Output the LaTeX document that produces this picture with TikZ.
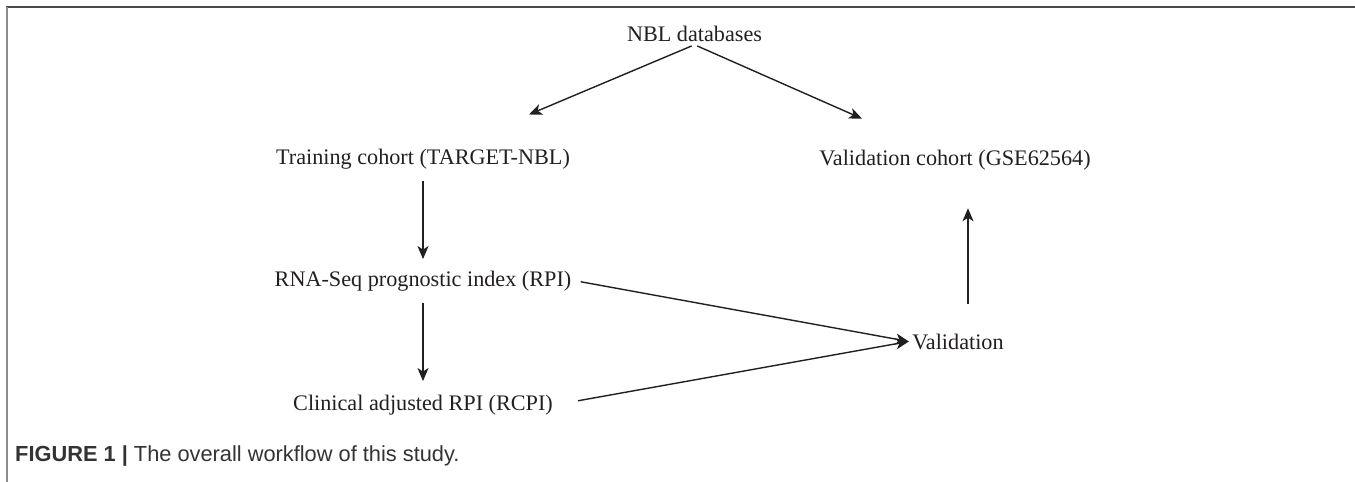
\documentclass[tikz,border=0pt]{standalone}
\usepackage{fontspec}
\setmainfont{Liberation Serif}
\newfontfamily\capfont{Liberation Sans}
\usetikzlibrary{arrows.meta}
\definecolor{ink}{HTML}{231F20}
\definecolor{framedark}{HTML}{4A4A4A}
\definecolor{framelight}{HTML}{8C8C8C}
\definecolor{captext}{HTML}{333333}
\begin{document}
\begin{tikzpicture}[x=1pt,y=-1pt,
    stage/.style={font=\fontsize{22.2}{26}\selectfont, text=ink, anchor=base},
    flow/.style={draw=ink, line width=1.4pt, -{Stealth[length=13pt,width=11pt,inset=3.5pt]}}]
      \useasboundingbox (0,0) rectangle (1355,482);
      \draw[framedark, line width=2pt] (6,7) -- (1355,7);
      \draw[framelight, line width=2pt] (7,7) -- (7,482);
      \draw
        (694.5,41) node[stage] (nbl){NBL databases}
        (423,164.5) node[stage] (train){Training cohort (TARGET-NBL)}
        (955,165) node[stage] (valcoh){Validation cohort (GSE62564)}
        (423,286) node[stage] (rpi){RNA-Seq prognostic index (RPI)}
        (423,410) node[stage] (rcpi){Clinical adjusted RPI (RCPI)}
        (958,349) node[stage] (val){Validation};
      \node[anchor=base west, inner sep=0, text=captext,
        font=\capfont\fontsize{21.8}{24}\selectfont] (caption) at (15,461)
        {\textbf{FIGURE 1 |} The overall workflow of this study.};
      \begin{scope}[flow]
        \draw[shorten <=3pt, shorten >=80pt] (nbl.south) to (train);
        \draw[shorten <=3pt, shorten >=68pt] (nbl.south) to (valcoh);
        \draw[shorten <=8pt, shorten >=8pt] (train.south) to (rpi.north);
        \draw[shorten <=9pt, shorten >=10pt] (rpi.south) to (rcpi.north);
        \draw[shorten <=6pt] (rpi.east) to (val.west);
        \draw[shorten <=22pt] (rcpi.east) to (val.west);
        \draw[shorten <=26pt, shorten >=35pt] ([xshift=10pt]val.north) to ([xshift=10pt]val.north |- valcoh.south);
      \end{scope}
    \end{tikzpicture}
\end{document}
